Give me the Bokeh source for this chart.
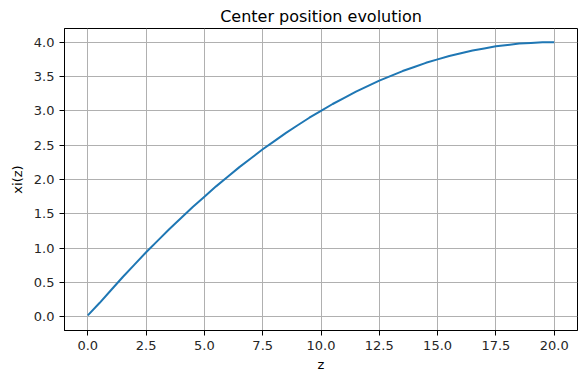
from bokeh.plotting import figure
from bokeh.models import FixedTicker, PrintfTickFormatter, Range1d
from bokeh.embed import file_html
from bokeh.resources import INLINE

z_vals = [0, 0.5, 1, 1.5, 2, 2.5, 3, 3.5, 4, 4.5, 5, 5.5, 6, 6.5, 7, 7.5, 8, 8.5, 9, 9.5,
          10, 10.5, 11, 11.5, 12, 12.5, 13, 13.5, 14, 14.5, 15, 15.5, 16, 16.5, 17, 17.5,
          18, 18.5, 19, 19.5, 20]
xi_vals = [0.02, 0.20, 0.39, 0.58, 0.76, 0.94, 1.11, 1.28, 1.44, 1.60, 1.75, 1.90, 2.04,
           2.18, 2.31, 2.44, 2.56, 2.68, 2.79, 2.90, 3.0, 3.10, 3.19, 3.28, 3.36, 3.44,
           3.51, 3.58, 3.64, 3.70, 3.75, 3.80, 3.84, 3.88, 3.91, 3.94, 3.96, 3.98, 3.99,
           4.0, 4.0]
x_ticks = [0, 2.5, 5, 7.5, 10, 12.5, 15, 17.5, 20]
y_ticks = [0, 0.5, 1.0, 1.5, 2.0, 2.5, 3.0, 3.5, 4.0]

FONT = "DejaVu Sans"

p = figure(width=580, height=374, output_backend="svg", toolbar_location=None,
           title="Center position evolution",
           x_range=Range1d(-1.0, 21.0), y_range=Range1d(-0.2, 4.2),
           min_border_left=64, min_border_right=3, min_border_top=28, min_border_bottom=44)

p.line(z_vals, xi_vals, line_color="#1f77b4", line_width=2)

p.title.text_font = FONT
p.title.text_font_size = "16px"
p.title.text_font_style = "normal"
p.title.align = "center"
p.title.text_color = "#000000"
p.title.standoff = 6

p.outline_line_color = "#000000"
p.outline_line_width = 1

for ax in (p.xaxis[0], p.yaxis[0]):
    ax.axis_line_color = "#000000"
    ax.major_tick_line_color = "#000000"
    ax.major_tick_out = 5
    ax.major_tick_in = 0
    ax.minor_tick_line_color = None
    ax.major_label_text_font = FONT
    ax.major_label_text_font_size = "13px"
    ax.major_label_text_color = "#262626"
    ax.axis_label_text_font = FONT
    ax.axis_label_text_font_size = "13px"
    ax.axis_label_text_font_style = "normal"
    ax.axis_label_text_color = "#000000"
    ax.formatter = PrintfTickFormatter(format="%.1f")

p.xaxis[0].ticker = FixedTicker(ticks=x_ticks)
p.yaxis[0].ticker = FixedTicker(ticks=y_ticks)
p.xaxis[0].axis_label = "z"
p.yaxis[0].axis_label = "xi(z)"
p.xaxis[0].axis_label_standoff = 4
p.yaxis[0].axis_label_standoff = 6

for g in (p.xgrid[0], p.ygrid[0]):
    g.grid_line_color = "#b0b0b0"
    g.grid_line_width = 1
p.xgrid[0].ticker = FixedTicker(ticks=x_ticks)
p.ygrid[0].ticker = FixedTicker(ticks=y_ticks)

open("out.html", "w").write(file_html(p, INLINE))
